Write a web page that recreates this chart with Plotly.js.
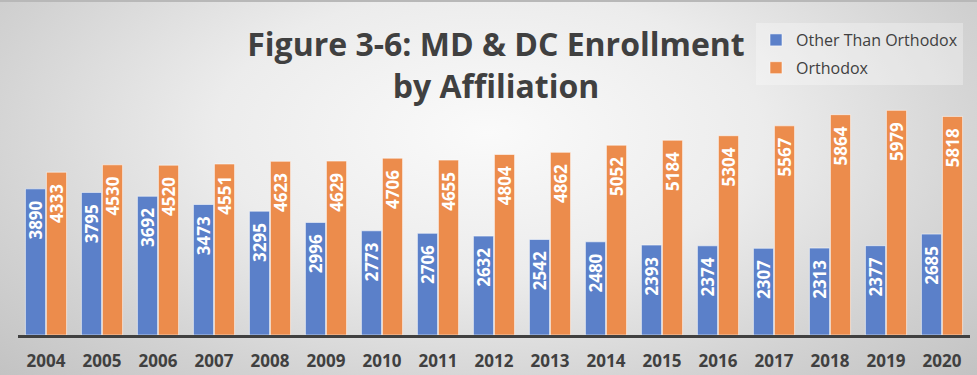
<!DOCTYPE html>
<html>
<head>
<meta charset="utf-8">
<script src="https://cdn.plot.ly/plotly-3.0.1.min.js"></script>
<style>
  html, body { margin: 0; padding: 0; }
  #chart {
    width: 977px; height: 375px;
    background: radial-gradient(ellipse 70% 95% at 50% 35%, #fafafa 0%, #ececec 40%, #d2d2d2 75%, #c2c2c2 100%);
    box-sizing: border-box;
    border-top: 2px solid #b8b8b8;
  }
</style>
</head>
<body>
<div id="chart"></div>
<script>
const years = ['2004','2005','2006','2007','2008','2009','2010','2011','2012','2013','2014','2015','2016','2017','2018','2019','2020'];
const otherThanOrthodox = [3890,3795,3692,3473,3295,2996,2773,2706,2632,2542,2480,2393,2374,2307,2313,2377,2685];
const orthodox = [4333,4530,4520,4551,4623,4629,4706,4655,4804,4862,5052,5184,5304,5567,5864,5979,5818];
const seriesNames = ['Other Than Orthodox', 'Orthodox'];
const titleText = 'Figure 3-6: MD & DC Enrollment<br>by Affiliation';

const labelFont = {family: 'Open Sans', size: 17, color: '#ffffff', weight: 'bold'};

function barTrace(name, vals, color, group) {
  return {
    type: 'bar', name: name, x: years, y: vals,
    legendgroup: group,
    marker: {color: color, line: {color: 'rgba(255,255,255,0.55)', width: 1}},
    text: vals.map(String),
    texttemplate: '%{text}\u00a0\u00a0',
    textposition: 'inside',
    insidetextanchor: 'end',
    textangle: -90,
    insidetextfont: labelFont,
    constraintext: 'none',
    hoverinfo: 'skip'
  };
}

const data = [
  barTrace(seriesNames[0], otherThanOrthodox, '#5b80c9', 'a'),
  barTrace(seriesNames[1], orthodox, '#ec8c4c', 'b')
];

const H = 373, T = 70, B = 40, L = 18, R = 7;
const plotH = H - T - B, plotW = 977 - L - R;

const layout = {
  width: 977, height: H,
  paper_bgcolor: 'rgba(0,0,0,0)',
  plot_bgcolor: 'rgba(0,0,0,0)',
  margin: {l: L, r: R, t: T, b: B, autoexpand: false},
  barmode: 'group',
  bargap: 0.25,
  bargroupgap: 0.04,
  title: {
    text: titleText,
    font: {family: 'Open Sans', size: 32, color: '#404040', weight: 'bold'},
    x: 496/977, xanchor: 'center', xref: 'container',
    y: 1 - 54/H, yanchor: 'top', yref: 'container'
  },
  xaxis: {
    type: 'category',
    showgrid: false, zeroline: false,
    showline: true, linecolor: '#404040', linewidth: 2.5,
    ticks: '', ticklabelstandoff: 9,
    tickfont: {family: 'Open Sans', size: 17, color: '#404040', weight: 'bold'},
    fixedrange: true
  },
  yaxis: {
    range: [0, 7000],
    showgrid: false, zeroline: false, showline: false,
    showticklabels: false, ticks: '',
    fixedrange: true
  },
  showlegend: true,
  legend: {
    xref: 'paper', yref: 'paper',
    x: (756 - L)/plotW, xanchor: 'left',
    y: 1 + (T - 21)/plotH, yanchor: 'top',
    bgcolor: 'rgba(255,255,255,0.3)',
    font: {family: 'Open Sans', size: 16, color: '#404040'},
    traceorder: 'grouped',
    tracegroupgap: 4
  }
};

Plotly.newPlot('chart', data, layout, {staticPlot: true, displayModeBar: false});
</script>
</body>
</html>
